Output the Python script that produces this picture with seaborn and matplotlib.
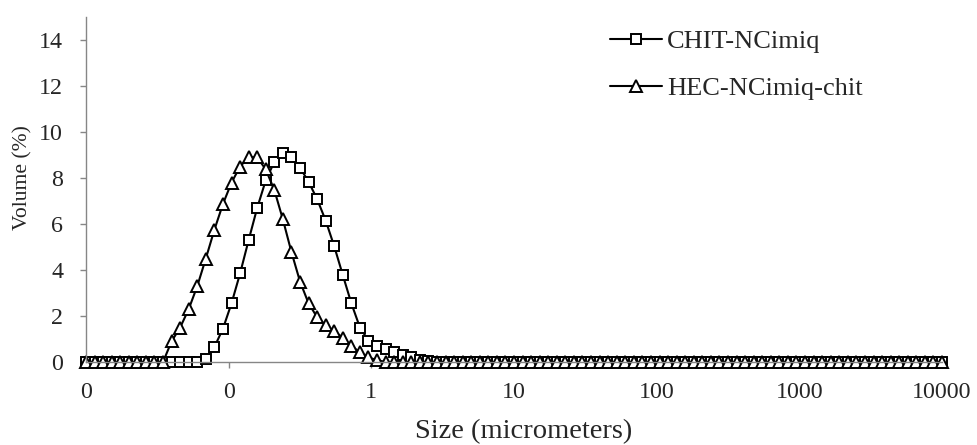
import numpy as np
import pandas as pd
import matplotlib
matplotlib.use("Agg")
import matplotlib.pyplot as plt
import seaborn as sns
from matplotlib.ticker import FixedLocator, FixedFormatter, NullLocator

# Size classes (micrometers): 101 log-spaced bins from 0.01 to 10000
size_um = np.logspace(-2, 4, 101)

# Non-zero part of each distribution, keyed by bin index
chit_idx = list(range(14, 41))
chit_vol = [0.15, 0.65, 1.45, 2.55, 3.85, 5.3, 6.7, 7.9, 8.7, 9.07,
            8.9, 8.45, 7.84, 7.08, 6.15, 5.03, 3.78, 2.55, 1.5, 0.93,
            0.7, 0.55, 0.42, 0.3, 0.2, 0.1, 0.05]

hec_idx = list(range(10, 35))
hec_vol = [0.9, 1.5, 2.3, 3.3, 4.5, 5.75, 6.87, 7.8, 8.5, 8.9,
           8.9, 8.37, 7.48, 6.2, 4.78, 3.5, 2.55, 1.95, 1.6, 1.35,
           1.05, 0.7, 0.42, 0.2, 0.08]

series_names = ["CHIT-NCimiq", "HEC-NCimiq-chit"]

x_ticks = [0.01, 0.1, 1, 10, 100, 1000, 10000]
x_tick_labels = ["0", "0", "1", "10", "100", "1000", "10000"]
y_ticks = [0, 2, 4, 6, 8, 10, 12, 14]


def full_curve(idx, vals):
    v = np.zeros(len(size_um))
    v[idx] = vals
    return v


df = pd.DataFrame({
    "size": size_um,
    series_names[0]: full_curve(chit_idx, chit_vol),
    series_names[1]: full_curve(hec_idx, hec_vol),
})

sns.set_style("white")
plt.rcParams["font.family"] = ["Liberation Serif", "DejaVu Serif"]

fig = plt.figure(figsize=(9.78, 4.45), dpi=100)
ax = fig.add_axes([86 / 978, 1 - 362 / 445, (942 - 86) / 978, (362 - 17) / 445])

common = dict(color="black", linewidth=1.5, markerfacecolor="white",
              markeredgecolor="black", markeredgewidth=1.4, clip_on=False)
sns.lineplot(data=df, x="size", y=series_names[0], ax=ax, marker="s",
             markersize=7.6, label=series_names[0], **common)
sns.lineplot(data=df, x="size", y=series_names[1], ax=ax, marker="^",
             markersize=8.2, label=series_names[1], **common)

ax.set_xscale("log")
ax.set_xlim(0.01, 10000)
ax.set_ylim(0, 15)
ax.xaxis.set_major_locator(FixedLocator(x_ticks))
ax.xaxis.set_major_formatter(FixedFormatter(x_tick_labels))
ax.xaxis.set_minor_locator(NullLocator())
ax.set_yticks(y_ticks)

for side in ("top", "right"):
    ax.spines[side].set_visible(False)
for side in ("left", "bottom"):
    ax.spines[side].set_color("#868686")
    ax.spines[side].set_linewidth(1.0)

ax.tick_params(axis="x", direction="out", length=4.5, width=1.0,
               color="#868686", pad=10, labelsize=17.3, bottom=True)
ax.tick_params(axis="y", direction="out", length=4.5, width=1.0,
               color="#868686", pad=12, labelsize=17.3, left=True)

ax.set_xlabel("Size (micrometers)", fontsize=20.5)
ax.xaxis.set_label_coords(0.511, -0.166)
ax.set_ylabel("Volume (%)", fontsize=15.6)
ax.yaxis.set_label_coords(-0.063, 0.536)

ax.legend(loc="upper left", bbox_to_anchor=(610 / 978, 1 - 30 / 445),
          bbox_transform=fig.transFigure, frameon=False, borderpad=0,
          borderaxespad=0, handlelength=1.97, handletextpad=0.2,
          labelspacing=0.87, fontsize=19)

fig.savefig("out.png", dpi=100)
